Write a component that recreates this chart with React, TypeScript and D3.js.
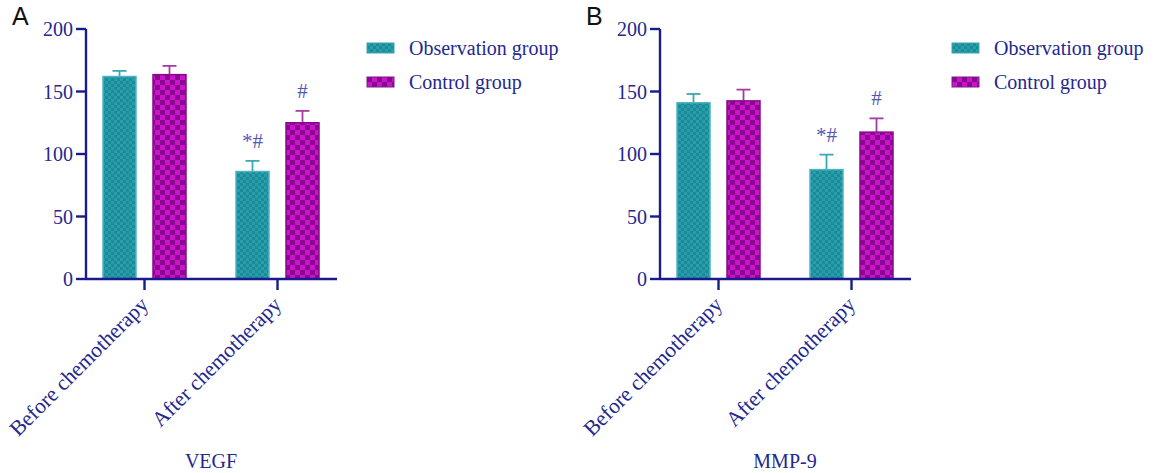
import * as d3 from 'd3';
import React from 'react';

// data
const categories = ['Before chemotherapy', 'After chemotherapy'];
const seriesNames = ['Observation group', 'Control group'];

const vegfObs = [162, 86];
const vegfObsErr = [4.5, 8.5];
const vegfCtrl = [163.5, 125];
const vegfCtrlErr = [7, 9.5];
const vegfMarks = ['*#', '#'];

const mmpObs = [141, 87.5];
const mmpObsErr = [7, 12];
const mmpCtrl = [142.5, 117.5];
const mmpCtrlErr = [9, 11];
const mmpMarks = ['*#', '#'];

const yTicks = [0, 50, 100, 150, 200];

const AXIS = '#1a1a90';
const TXT = '#23288f';
const MARK = '#5457b4';
const FONT = '"Liberation Serif", "Times New Roman", serif';

function Panel({ offset, letter, title, obs, obsErr, ctrl, ctrlErr, marks, legendX, id }) {
  const y = d3.scaleLinear().domain([0, 200]).range([279, 29]);
  const x = d3.scaleBand().domain(categories).range([offset + 78, offset + 344]).paddingInner(0).paddingOuter(0);
  const inner = d3.scaleBand().domain(seriesNames).range([-41.5, 41.5]).paddingInner(0.34);
  const axisX = offset + 86;
  const axisEnd = offset + 337;

  const rows = categories.map((c, i) => [
    { s: seriesNames[0], v: obs[i], e: obsErr[i], mark: marks[0], fill: `url(#teal-${id})`, stroke: '#4fb3c2', err: '#3ea6b4' },
    { s: seriesNames[1], v: ctrl[i], e: ctrlErr[i], mark: marks[1], fill: `url(#mag-${id})`, stroke: '#860a88', err: '#a83aa8' },
  ]);

  return (
    <g>
      <defs>
        <pattern id={`teal-${id}`} width={6} height={6} patternUnits="userSpaceOnUse">
          <rect width={6} height={6} fill="#1a8b99" />
          <rect width={3} height={3} fill="#2a9dab" />
          <rect x={3} y={3} width={3} height={3} fill="#2a9dab" />
        </pattern>
        <pattern id={`mag-${id}`} width={10} height={10} patternUnits="userSpaceOnUse">
          <rect width={10} height={10} fill="#cc12cc" />
          <rect width={5} height={5} fill="#880a8c" />
          <rect x={5} y={5} width={5} height={5} fill="#880a8c" />
        </pattern>
      </defs>

      <text x={offset + 12} y={25} fontFamily="Liberation Sans, Arial, sans-serif" fontSize={25} fill="#111">{letter}</text>

      {categories.map((c, i) =>
        rows[i].map((r) => {
          const bx = x(c)! + x.bandwidth() / 2 + inner(r.s)!;
          const cx = bx + inner.bandwidth() / 2;
          return (
            <g key={c + r.s}>
              <line x1={cx} x2={cx} y1={y(r.v)} y2={y(r.v + r.e)} stroke={r.err} strokeWidth={1.8} />
              <line x1={cx - 7} x2={cx + 7} y1={y(r.v + r.e)} y2={y(r.v + r.e)} stroke={r.err} strokeWidth={1.8} />
              <rect x={bx} y={y(r.v)} width={inner.bandwidth()} height={y(0) - y(r.v)} fill={r.fill} stroke={r.stroke} strokeWidth={1.5} />
              {i === 1 && (
                <text x={cx} y={y(r.v + r.e) - 13} textAnchor="middle" fontFamily={FONT} fontSize={21} fill={MARK}>{r.mark}</text>
              )}
            </g>
          );
        })
      )}

      {/* y axis */}
      <line x1={axisX} x2={axisX} y1={y(200)} y2={y(0) + 1} stroke={AXIS} strokeWidth={2.4} />
      {yTicks.map((t) => (
        <g key={t}>
          <line x1={axisX - 10} x2={axisX} y1={y(t)} y2={y(t)} stroke={AXIS} strokeWidth={2.4} />
          <text x={axisX - 13} y={y(t)} dy="0.35em" textAnchor="end" fontFamily={FONT} fontSize={20} fill={TXT}>{t}</text>
        </g>
      ))}

      {/* x axis */}
      <line x1={axisX} x2={axisEnd} y1={y(0)} y2={y(0)} stroke={AXIS} strokeWidth={2.4} />
      {categories.map((c) => {
        const cx = x(c)! + x.bandwidth() / 2;
        return (
          <g key={c}>
            <line x1={cx} x2={cx} y1={y(0)} y2={y(0) + 11} stroke={AXIS} strokeWidth={2.4} />
            <text transform={`translate(${cx + 5},${y(0) + 27}) rotate(-45)`} textAnchor="end" fontFamily={FONT} fontSize={21.5} fill={TXT}>{c}</text>
          </g>
        );
      })}

      <text x={offset + 211} y={468} textAnchor="middle" fontFamily={FONT} fontSize={20} fill={TXT}>{title}</text>

      {/* legend */}
      {seriesNames.map((s, i) => (
        <g key={s} transform={`translate(${legendX},${43 + i * 34})`}>
          <rect x={0} y={0} width={27} height={10} fill={i === 0 ? `url(#teal-${id})` : `url(#mag-${id})`} stroke={i === 0 ? '#3aa3b2' : '#7a1a8a'} strokeWidth={1} />
          <text x={42} y={5} dy="0.35em" fontFamily={FONT} fontSize={20} fill={TXT}>{s}</text>
        </g>
      ))}
    </g>
  );
}

export default function App() {
  return (
    <svg width={1156} height={473} style={{ position: 'absolute', left: 0, top: 0, background: '#fff' }}>
      <rect width={1156} height={473} fill="#fff" />
      <Panel id="a" offset={0} letter="A" title="VEGF" obs={vegfObs} obsErr={vegfObsErr} ctrl={vegfCtrl} ctrlErr={vegfCtrlErr} marks={vegfMarks} legendX={367} />
      <Panel id="b" offset={574} letter="B" title="MMP-9" obs={mmpObs} obsErr={mmpObsErr} ctrl={mmpCtrl} ctrlErr={mmpCtrlErr} marks={mmpMarks} legendX={952} />
    </svg>
  );
}
